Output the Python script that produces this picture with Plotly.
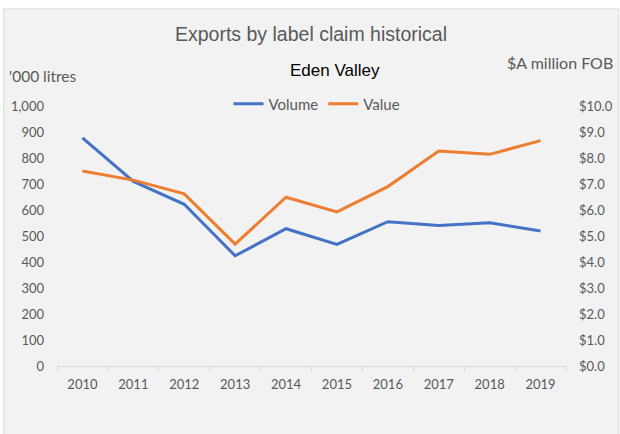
import plotly.graph_objects as go

years = ["2010", "2011", "2012", "2013", "2014", "2015", "2016", "2017", "2018", "2019"]
volume = [877, 710, 622, 424, 528, 468, 555, 540, 551, 519]
value = [7.50, 7.15, 6.62, 4.69, 6.49, 5.93, 6.90, 8.27, 8.14, 8.67]

W, H = 620, 434
L, R, T, B = 56.5, 53.5, 106, 68
pw = W - L - R
ph = H - T - B

def px(xpix):
    return (xpix - L) / pw

def py(ypix):
    return (H - B - ypix) / ph

tick_font = dict(family="Lato, Open Sans, sans-serif", size=13, color="#595959")

fig = go.Figure()
fig.add_trace(go.Scatter(x=years, y=volume, name="Volume", mode="lines",
                         line=dict(color="#4472C4", width=3), yaxis="y"))
fig.add_trace(go.Scatter(x=years, y=value, name="Value", mode="lines",
                         line=dict(color="#ED7D31", width=3), yaxis="y2"))

fig.update_layout(
    width=W, height=H,
    margin=dict(l=L, r=R, t=T, b=B, pad=0, autoexpand=False),
    paper_bgcolor="white",
    plot_bgcolor="rgba(0,0,0,0)",
    showlegend=True,
    legend=dict(orientation="h", x=px(317), xanchor="center", y=py(104), yanchor="middle",
                font=dict(family="Lato, Open Sans, sans-serif", size=15, color="#595959"),
                bgcolor="rgba(0,0,0,0)", itemwidth=30, tracegroupgap=0),
    xaxis=dict(type="category", range=[-0.5, len(years) - 0.5], showgrid=False, showline=True,
               linecolor="#d9d9d9", linewidth=1, automargin=False,
               ticks="outside", tickson="boundaries", ticklen=5, tickcolor="#d9d9d9",
               tickfont=tick_font, ticklabelstandoff=6, zeroline=False),
    yaxis=dict(range=[0, 1000], dtick=100, tickformat=",", showgrid=False, zeroline=False,
               showline=False, tickfont=tick_font, ticklabelstandoff=12, automargin=False),
    yaxis2=dict(range=[0, 10], dtick=1, tickformat=".1f", tickprefix="$", overlaying="y",
                side="right", showgrid=False, zeroline=False, showline=False, automargin=False,
                tickfont=tick_font, ticklabelstandoff=12),
    title=dict(text="Exports by label claim historical", x=311 / W, xanchor="center",
               y=1 - 34 / H, yanchor="middle",
               font=dict(family="Liberation Sans, Arial, sans-serif", size=19.5, color="#595959")),
    shapes=[dict(type="rect", xref="paper", yref="paper", x0=px(3), x1=px(619.5),
                 y0=py(440), y1=py(9), fillcolor="#f2f2f2",
                 line=dict(color="#d9d9d9", width=1), layer="below")],
    annotations=[
        dict(text="Eden Valley", xref="paper", yref="paper", x=px(335.5), y=py(70),
             xanchor="center", yanchor="middle", showarrow=False,
             font=dict(family="Liberation Sans, Arial, sans-serif", size=17, color="#000000")),
        dict(text="'000 litres", xref="paper", yref="paper", x=px(6), y=py(76),
             xanchor="left", yanchor="middle", showarrow=False,
             font=dict(family="Lato, Open Sans, sans-serif", size=15.5, color="#595959")),
        dict(text="$A million FOB", xref="paper", yref="paper", x=px(616), y=py(63),
             xanchor="right", yanchor="middle", showarrow=False,
             font=dict(family="Lato, Open Sans, sans-serif", size=16, color="#595959")),
    ],
)

fig.write_html("out.html")
